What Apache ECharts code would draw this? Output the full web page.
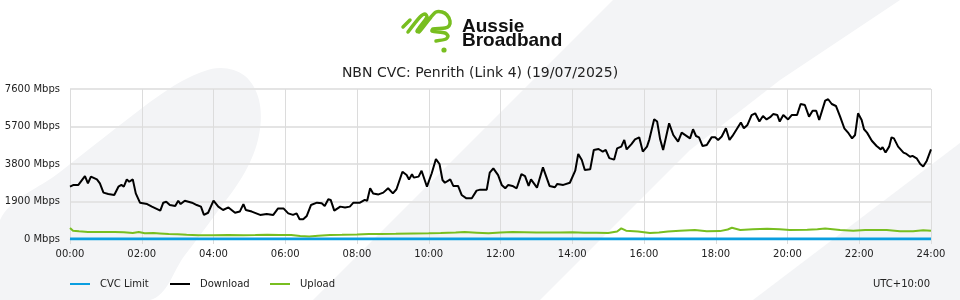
<!DOCTYPE html>
<html><head><meta charset="utf-8">
<script src="https://cdn.jsdelivr.net/npm/echarts@6/dist/echarts.min.js"></script>
<style>html,body{margin:0;padding:0;background:#fff}#c{width:960px;height:300px}</style>
</head><body><div id="c"></div>
<script>
// ---- data (minutes since 00:00, Mbps) ----
const xTickLabels = ['00:00','02:00','04:00','06:00','08:00','10:00','12:00','14:00','16:00','18:00','20:00','22:00','24:00'];
const yTickValues = [0,1900,3800,5700,7600];
const seriesNames = ['CVC Limit','Download','Upload'];

const cvcMinutes = [0,1440];
const cvcValues = [0,0];

const dlMinutes = [0,6,14,25,30,35,45,50,56,64,74,81,86,90,95,99,105,110,117,129,137,151,156,161,167,176,181,185,192,204,212,219,224,231,240,248,256,265,276,284,290,294,304,318,329,340,348,357,365,373,379,384,390,396,403,413,421,426,432,436,442,452,460,468,474,485,493,497,502,507,516,524,532,540,546,556,563,567,572,575,583,588,597,605,612,618,623,627,636,641,649,655,663,672,680,686,697,702,708,716,722,728,733,740,747,755,761,767,771,781,791,802,811,815,825,836,845,850,856,861,870,876,884,891,896,902,910,915,922,927,931,939,945,952,958,965,969,977,982,987,992,1002,1009,1017,1023,1037,1042,1047,1052,1058,1065,1073,1079,1084,1090,1097,1103,1108,1115,1122,1127,1133,1140,1146,1153,1159,1165,1171,1176,1183,1187,1193,1201,1207,1216,1222,1229,1236,1242,1248,1253,1263,1268,1274,1281,1288,1295,1302,1308,1313,1318,1324,1328,1333,1341,1349,1356,1359,1364,1370,1374,1378,1385,1394,1399,1405,1409,1416,1422,1427,1433,1440];
const dlValues = [2650,2740,2740,3190,2820,3160,3020,2820,2350,2280,2230,2650,2740,2650,3020,2900,3020,2310,1840,1770,1640,1440,1840,1890,1720,1670,1940,1770,1940,1840,1720,1640,1220,1330,1940,1640,1470,1600,1330,1390,1770,1470,1390,1220,1270,1220,1550,1550,1300,1220,1300,1000,1000,1170,1720,1840,1810,1670,2010,1980,1440,1640,1600,1640,1840,1840,1980,1940,2570,2310,2260,2350,2570,2310,2520,3410,3240,3020,3280,3110,3160,3460,2650,3330,4050,3800,2990,2850,3020,2690,2690,2230,2060,2060,2450,2500,2500,3360,3580,3240,2740,2570,2740,2690,2570,3290,3190,2690,3020,2600,3630,2690,2620,2790,2740,2850,3460,4310,4000,3500,3530,4510,4560,4430,4510,4100,4020,4590,4680,5020,4540,4810,5050,5150,4430,4680,5050,6070,5950,5050,4510,5860,5270,4930,5390,5100,5560,5220,5150,4710,4760,5150,5150,5020,5190,5610,5020,5220,5560,5900,5610,5780,6280,6370,5950,6230,6060,6170,6330,6280,5950,6280,6060,6280,6280,6840,6790,6200,6500,6500,6030,7010,7080,6840,6740,6200,5610,5360,5100,5270,6370,6030,5560,5390,4980,4710,4540,4650,4380,4680,5150,5100,4680,4380,4310,4170,4210,4090,3800,3670,3970,4540];

const ulMinutes = [0,5,15,30,45,60,75,90,105,115,125,140,150,165,180,195,215,240,265,290,310,330,350,370,385,400,415,435,455,480,500,520,545,575,600,620,645,660,680,700,720,740,760,780,800,820,840,860,880,900,915,922,930,950,970,985,1000,1020,1045,1065,1087,1100,1107,1121,1142,1166,1187,1204,1233,1250,1263,1288,1310,1330,1345,1366,1388,1410,1427,1440];
const ulValues = [560,420,390,360,360,350,360,340,300,350,290,300,280,250,240,210,190,190,200,190,200,220,200,200,150,130,170,200,210,230,250,250,260,280,290,300,330,350,320,290,330,350,340,330,330,330,340,320,320,300,380,540,420,380,300,330,380,420,450,390,400,480,570,460,500,520,500,460,470,500,530,460,420,450,460,450,390,390,440,420];

const zip = (a,b) => a.map((m,i) => [m, b[i]]);
const FONT = 'DejaVu Sans';
const BG = '#f3f4f6';
const GREEN = '#78be20';

const legendFor = (name, i) => ({
  left:70 + i*100, top:279, padding:0, icon:'rect', itemWidth:20, itemHeight:2,
  data:[name],
  textStyle:{fontFamily:FONT, fontSize:10, color:'#222', padding:[0,0,0,5]}
});

const chart = echarts.init(document.getElementById('c'), null, {renderer:'canvas'});
chart.setOption({
  animation:false,
  backgroundColor:'#ffffff',
  textStyle:{fontFamily:FONT},
  title:{
    text:'NBN CVC: Penrith (Link 4) (19/07/2025)',
    left:'center', top:61,
    textStyle:{fontFamily:FONT, fontSize:14, fontWeight:'normal', color:'#222'}
  },
  graphic:[
    {type:'polygon', z:-10, silent:true, shape:{smooth:0.35, points:[[0,220],[60,172],[120,125],[160,95],[190,77],[220,68],[245,76],[259,100],[259,135],[245,172],[215,215],[185,255],[150,300],[0,300]]}, style:{fill:BG}},
    {type:'polygon', z:-10, silent:true, shape:{points:[[313,300],[613,0],[900,0],[780,80],[690,150],[540,300]]}, style:{fill:BG}},
    {type:'polygon', z:-10, silent:true, shape:{points:[[753,300],[960,143],[960,300]]}, style:{fill:BG}},
    {type:'polyline', silent:true, shape:{points:[[403,27],[410,20]]}, style:{stroke:GREEN, lineWidth:3.5, lineCap:'round'}},
    {type:'polyline', silent:true, shape:{smooth:0.25, points:[[408,32],[420,17],[425,14],[427,17],[417,31],[419,32],[431,17],[436,12],[442,12],[447,15],[450,21],[449,26],[445,28],[433,29],[432,31],[445,33],[448,36],[446,39],[436,41]]}, style:{stroke:GREEN, lineWidth:3.5, lineCap:'round', lineJoin:'round', fill:null}},
    {type:'circle', silent:true, shape:{cx:444, cy:50, r:2.6}, style:{fill:GREEN}},
    {type:'text', silent:true, x:462, y:26.5, style:{text:'Aussie', font:'bold 19px "Liberation Sans"', fill:'#111', verticalAlign:'middle'}},
    {type:'text', silent:true, x:462, y:40.5, style:{text:'Broadband', font:'bold 19px "Liberation Sans"', fill:'#111', verticalAlign:'middle'}},
    {type:'text', silent:true, x:930, y:284, style:{text:'UTC+10:00', font:'10px "DejaVu Sans"', fill:'#222', align:'right', verticalAlign:'middle'}}
  ],
  legend: seriesNames.map(legendFor),
  grid:{left:70, right:29, top:89, bottom:61, containLabel:false},
  xAxis:{
    type:'value', min:0, max:1440, interval:120,
    axisLine:{show:true, lineStyle:{color:'#dcdcdc'}},
    axisTick:{show:true, length:5, lineStyle:{color:'#dcdcdc'}},
    axisLabel:{fontFamily:FONT, fontSize:10, color:'#222', margin:10, formatter:(v)=>xTickLabels[Math.round(v/120)]},
    splitLine:{show:true, lineStyle:{color:'#dcdcdc', width:1}}
  },
  yAxis:{
    type:'value', min:yTickValues[0], max:yTickValues[yTickValues.length-1], interval:yTickValues[1]-yTickValues[0],
    axisLine:{show:false}, axisTick:{show:false},
    axisLabel:{fontFamily:FONT, fontSize:10, color:'#222', margin:10, formatter:(v)=>v + ' Mbps'},
    splitLine:{show:true, lineStyle:{color:'#e4e4e4', width:2}}
  },
  series:[
    {name:seriesNames[0], type:'line', showSymbol:false, data:zip(cvcMinutes,cvcValues), lineStyle:{color:'#0a9ee0', width:3}, itemStyle:{color:'#0a9ee0'}, z:5},
    {name:seriesNames[1], type:'line', showSymbol:false, data:zip(dlMinutes,dlValues), lineStyle:{color:'#000', width:2}, itemStyle:{color:'#000'}, z:4},
    {name:seriesNames[2], type:'line', showSymbol:false, data:zip(ulMinutes,ulValues), lineStyle:{color:GREEN, width:2}, itemStyle:{color:GREEN}, z:3}
  ]
});
</script></body></html>
